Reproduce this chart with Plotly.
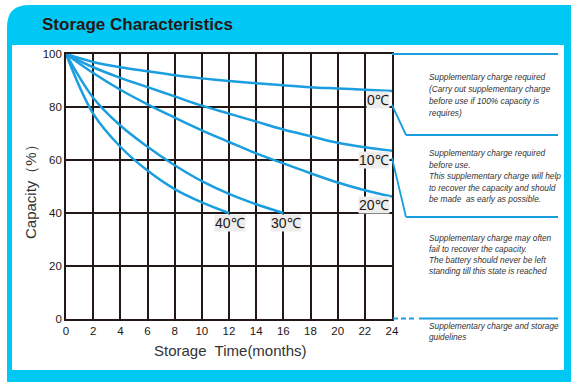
import plotly.graph_objects as go

# ---------------- data ----------------
months = [0, 2, 4, 6, 8, 10, 12, 14, 16, 18, 20, 22, 24]
cap_0c = [100, 97, 95, 93.5, 92, 90.8, 89.8, 89, 88.2, 87.5, 87, 86.5, 86]
cap_10c = [100, 95, 91, 87.5, 84, 80.5, 77.5, 74.5, 71.5, 69, 66.5, 64.8, 63.5]
cap_20c = [100, 92.8, 86.5, 81, 76, 71.2, 66.8, 62.5, 58.7, 55, 51.5, 48.6, 46.2]
months_30c = [0, 2, 4, 6, 8, 10, 12, 14, 16]
cap_30c = [100, 83.5, 73, 65, 58, 52, 47.2, 43.3, 40]
months_40c = [0, 2, 4, 6, 8, 10, 12]
cap_40c = [100, 77.5, 65, 56, 49, 44, 40]

x_ticks = list(range(0, 26, 2))
y_ticks = [0, 20, 40, 60, 80, 100]

title_text = "Storage Characteristics"
x_title = "Storage  Time(months)"
y_title = "Capacity（%）"

notes = [
    ["Supplementary charge required", "(Carry out supplementary charge",
     "before use if 100% capacity is", "requires)"],
    ["Supplementary charge required", "before use.",
     "This supplementary charge will help", "to recover the capacity and should",
     "be made  as early as possible."],
    ["Supplementary charge may often", "fail to recover the capacity.",
     "The battery should never be left", "standing till this state is reached"],
    ["Supplementary charge and storage", "guidelines"],
]

# ---------------- layout geometry ----------------
W, H = 576, 390
L, R, T, B = 66, 392, 54, 319
PW, PH = R - L, B - T


def px(x):
    return (x - L) / PW


def py(y):
    return (B - y) / PH


BLUE = "#1a9ee0"
CYAN = "#00c8f5"
DARK = "#231815"
FONT = "Liberation Sans, Arial, sans-serif"

fig = go.Figure()
series = [
    (months, cap_0c), (months, cap_10c), (months, cap_20c),
    (months_30c, cap_30c), (months_40c, cap_40c),
]
for xs, ys in series:
    fig.add_trace(go.Scatter(x=xs, y=ys, mode="lines",
                             line=dict(color=BLUE, width=2.5, shape="spline", smoothing=1.0),
                             showlegend=False, hoverinfo="skip"))

shapes = []
# cyan frame with rounded top-left corner
x0, y0, x1, y1 = 7, 5, 571, 382
r = 22
path = (f"M {px(x0)},{py(y1)} L {px(x0)},{py(y0 + r)} "
        f"Q {px(x0)},{py(y0)} {px(x0 + r)},{py(y0)} "
        f"L {px(x1)},{py(y0)} L {px(x1)},{py(y1)} Z")
shapes.append(dict(type="path", path=path, xref="paper", yref="paper",
                   fillcolor=CYAN, line=dict(width=0), layer="below"))
shapes.append(dict(type="rect", xref="paper", yref="paper",
                   x0=px(12), x1=px(564), y0=py(370), y1=py(45),
                   fillcolor="white", line=dict(width=0), layer="below"))


def seg(pts, dash="solid", width=1.8):
    for (a, b), (c, d) in zip(pts[:-1], pts[1:]):
        shapes.append(dict(type="line", xref="paper", yref="paper",
                           x0=px(a), y0=py(b), x1=px(c), y1=py(d),
                           line=dict(color=BLUE, width=width, dash=dash)))


seg([(392, 54), (558, 54)])
seg([(392, 105), (406, 135), (558, 135)])
seg([(392, 158), (406, 217), (558, 217)])
seg([(393, 318.5), (417, 318.5)], dash="5px,3px")
seg([(419, 318.5), (558, 318.5)])

annotations = []
annotations.append(dict(text=f"<b>{title_text}</b>", xref="paper", yref="paper",
                        x=px(40), y=py(24), xanchor="left", yanchor="middle",
                        showarrow=False, font=dict(family=FONT, size=17, color=DARK)))
annotations.append(dict(text=x_title, xref="paper", yref="paper",
                        x=px(230), y=py(350), xanchor="center", yanchor="middle",
                        showarrow=False, font=dict(family=FONT, size=15, color="#333333")))
annotations.append(dict(text=y_title, xref="paper", yref="paper", textangle=-90,
                        x=px(30), y=py(188), xanchor="center", yanchor="middle",
                        showarrow=False, font=dict(family=FONT, size=15, color="#333333")))

# temperature labels
temp_labels = [
    ("0℃", 24, 82.6, "right"),
    ("10℃", 24, 60.0, "right"),
    ("20℃", 24, 43.0, "right"),
    ("40℃", 12.07, 36.2, "center"),
    ("30℃", 16.2, 36.2, "center"),
]
for txt, xv, yv, anc in temp_labels:
    annotations.append(dict(text=txt, x=xv, y=yv, xref="x", yref="y",
                            xanchor=anc, yanchor="middle", showarrow=False,
                            xshift=-2 if anc == "right" else 0,
                            bgcolor="#ededed", borderpad=0,
                            font=dict(family=FONT, size=14, color=DARK)))

# note texts
note_starts = [77, 153, 238, 326]
note_steps = [12, 11.5, 11, 11]
for lines, y_start, step in zip(notes, note_starts, note_steps):
    for i, line in enumerate(lines):
        annotations.append(dict(text=f"<i>{line}</i>", xref="paper", yref="paper",
                                x=px(427), y=py(y_start + i * step),
                                xanchor="left", yanchor="middle", showarrow=False,
                                font=dict(family=FONT, size=8.3, color="#333333")))

axis_common = dict(showgrid=True, gridcolor=DARK, gridwidth=2,
                   showline=True, linecolor=DARK, linewidth=1.8, mirror=True,
                   zeroline=False, ticks="",
                   tickfont=dict(family=FONT, size=11.5, color=DARK))

fig.update_layout(
    width=W, height=H,
    margin=dict(l=L, r=W - R, t=T, b=H - B, pad=0),
    paper_bgcolor="white", plot_bgcolor="rgba(0,0,0,0)",
    xaxis=dict(range=[0, 24], tickvals=x_ticks, **axis_common),
    yaxis=dict(range=[0, 100], tickvals=y_ticks, **axis_common),
    shapes=shapes, annotations=annotations,
)

fig.write_html("out.html",
               config={"displayModeBar": False, "staticPlot": True},
               post_script="document.body.style.margin='0';document.body.style.overflow='hidden';")
